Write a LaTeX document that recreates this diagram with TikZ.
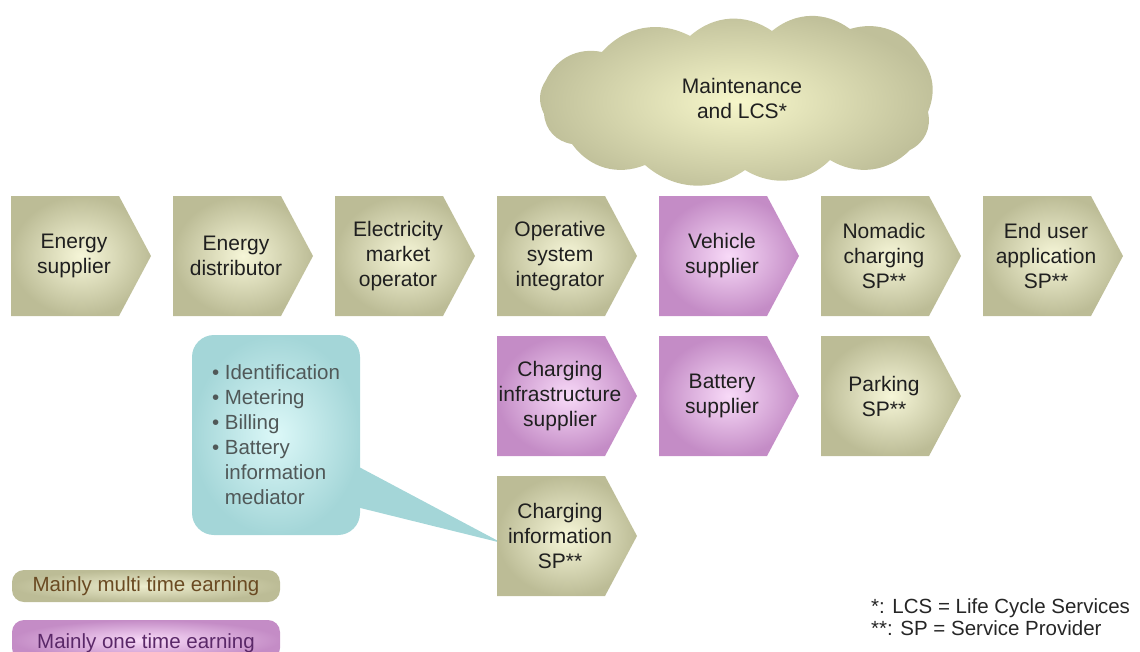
\documentclass[tikz,border=0pt]{standalone}
\usepackage{fontspec}
\setmainfont{Liberation Sans}
\usetikzlibrary{backgrounds}

\definecolor{khakiOut}{HTML}{BCBC96}
\definecolor{khakiIn}{HTML}{F6F6D8}
\definecolor{mauveOut}{HTML}{C48CC6}
\definecolor{mauveIn}{HTML}{F8DAF8}
\definecolor{aquaOut}{HTML}{A4D6D8}
\definecolor{aquaIn}{HTML}{DCF8F8}
\definecolor{cloudOut}{HTML}{C0C09A}
\definecolor{cloudIn}{HTML}{F6F6CA}
\definecolor{legBrown}{HTML}{6A4A22}
\definecolor{legPurple}{HTML}{5A2868}
\definecolor{noteText}{HTML}{505858}

\tikzset{
  khaki/.style={inner color=khakiIn, outer color=khakiOut},
  mauve/.style={inner color=mauveIn, outer color=mauveOut},
  puff/.style={bend left=38},
  chevtext/.style={font=\fontsize{21}{25}\selectfont, align=center, text=black!88, inner sep=0pt},
  plaintext/.style={font=\fontsize{20.5}{21.5}\selectfont, inner sep=0pt},
  legendbox/.style={rounded corners=12pt, minimum width=268pt, inner sep=0pt,
    font=\fontsize{20.5}{24}\selectfont},
}

% chevron: #1 name, #2 left edge, #3 top edge, #4 colour style, #5 text
\newcommand\chevronbox[5]{%
  \shade[#4] (#2,#3) -- ++(108,0) -- ++(32,60) -- ++(-32,60) -- ++(-108,0) -- cycle;
  \node[chevtext] (#1) at ({#2+63},{#3+60}) {#5};
}

\begin{document}
\begin{tikzpicture}[x=1pt,y=-1pt]
\useasboundingbox (0,0) rectangle (1140,651);
\clip (0,0) rectangle (1140,651);

% cloud of maintenance services, drawn as a ring of puffs
\shade[inner color=cloudIn, outer color=cloudOut]
  (546,80) to[puff] (602,52) to[puff] (690,36) to[puff] (772,31)
  to[puff] (850,29) to[puff] (920,56) to[bend left=30] (928,112)
  to[puff] (910,150) to[puff] (830,160) to[puff] (745,170)
  to[puff] (645,165) to[puff] (572,144) to[puff] (544,114)
  to[bend left=30] (546,80) -- cycle;
\node[chevtext] (lcslabel) at (742,98) {Maintenance\\and LCS*};

% first row of the value chain
\chevronbox{es}{11}{196}{khaki}{Energy\\supplier}
\chevronbox{ed}{173}{196}{khaki}{Energy\\distributor}
\chevronbox{emo}{335}{196}{khaki}{Electricity\\market\\operator}
\chevronbox{osi}{497}{196}{khaki}{Operative\\system\\integrator}
\chevronbox{vs}{659}{196}{mauve}{Vehicle\\supplier}
\chevronbox{ncsp}{821}{196}{khaki}{Nomadic\\charging\\SP**}
\chevronbox{eua}{983}{196}{khaki}{End user\\application\\SP**}

% second row
\chevronbox{cis}{497}{336}{mauve}{Charging\\infrastructure\\supplier}
\chevronbox{bs}{659}{336}{mauve}{Battery\\supplier}
\chevronbox{psp}{821}{336}{khaki}{Parking\\SP**}

% third row
\chevronbox{ci}{497}{476}{khaki}{Charging\\information\\SP**}

% callout listing the charging information services
\node[rounded corners=22pt, minimum width=168pt, minimum height=200pt,
      shade, inner color=aquaIn, outer color=aquaOut,
      font=\fontsize{20.5}{25}\selectfont, text=noteText, align=left]
  (call) at (276,435)
  {• Identification\\• Metering\\• Billing\\• Battery\\\hphantom{• }information\\\hphantom{• }mediator};
\coordinate (calltip) at ([xshift=-58pt,yshift=-7pt]ci.center);
\begin{pgfonlayer}{background}
  \fill[aquaOut] ([xshift=-20pt,yshift=-22pt]call.east) -- (calltip)
    -- ([xshift=-20pt,yshift=-68pt]call.east) -- cycle;
\end{pgfonlayer}

% legend
\node[legendbox, minimum height=32pt, shade, inner color=khakiIn!85!khakiOut,
      outer color=khakiOut, text=legBrown] (legmulti) at (146,586)
  {Mainly multi time earning};
\node[legendbox, minimum height=40pt, shade, inner color=mauveIn,
      outer color=mauveOut, text=legPurple, text depth=0pt] (legone) at (146,640)
  {\raisebox{-2pt}{Mainly one time earning}};

% footnotes
\node[plaintext, anchor=west, align=left, text=black!85] (notes) at (871,617)
  {*: LCS = Life Cycle Services\\**: SP = Service Provider};
\end{tikzpicture}
\end{document}
